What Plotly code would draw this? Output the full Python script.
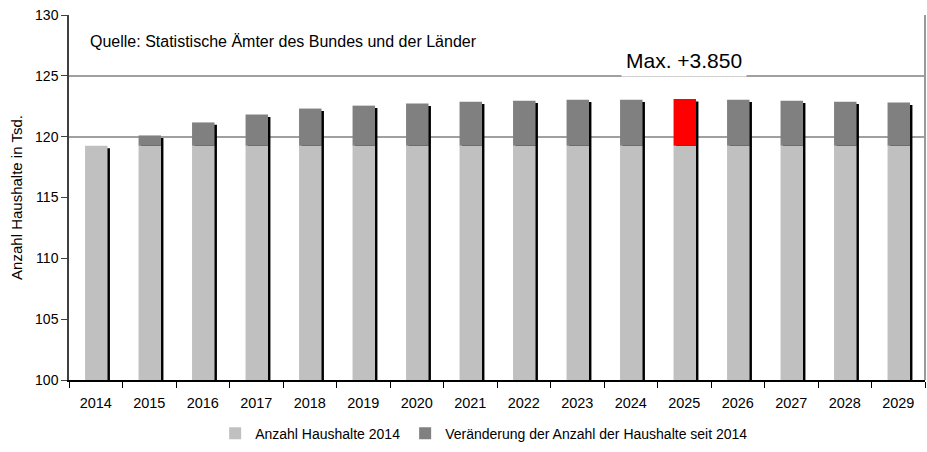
import plotly.graph_objects as go

# Households (thousands): 2014 stock plus the change since 2014
years = list(range(2014, 2030))
year_labels = [str(y) for y in years]
base_2014 = 119.25
change_since_2014 = [0.00, 0.85, 1.92, 2.57, 3.06, 3.30, 3.47, 3.63,
                     3.71, 3.79, 3.79, 3.85, 3.79, 3.71, 3.63, 3.55]

y_ticks = [100, 105, 110, 115, 120, 125, 130]
y_grid = [120, 125, 130]
source_text = "Quelle: Statistische Ämter des Bundes und der Länder"
legend_names = ["Anzahl Haushalte 2014",
                "Veränderung der Anzahl der Haushalte seit 2014"]

FONT = "Liberation Sans, Arial, sans-serif"
LIGHT = "#c0c0c0"
DARK = "#808080"
HIGHLIGHT = "#ff0000"

max_change = max(change_since_2014)
max_idx = change_since_2014.index(max_change)
totals = [base_2014 + c for c in change_since_2014]

BAR_W = 0.42
BAR_OFF = -0.20
SHADOW_DX = 0.045
SHADOW_DY = 0.2

fig = go.Figure()

# drop shadow behind each column
fig.add_trace(go.Bar(
    x=years, y=[t - SHADOW_DY for t in totals],
    width=BAR_W, offset=BAR_OFF + SHADOW_DX,
    marker=dict(color="#000000", line=dict(width=0)),
    showlegend=False, hoverinfo="skip",
))

# 2014 stock
fig.add_trace(go.Bar(
    x=years, y=[base_2014] * len(years),
    width=BAR_W, offset=BAR_OFF,
    name=legend_names[0],
    marker=dict(color=LIGHT, line=dict(width=0)),
))

# change since 2014, stacked on the 2014 stock
colors = [HIGHLIGHT if i == max_idx else DARK for i in range(len(years))]
fig.add_trace(go.Bar(
    x=years, y=change_since_2014, base=[base_2014] * len(years),
    width=BAR_W, offset=BAR_OFF,
    name=legend_names[1],
    marker=dict(color=colors, line=dict(width=0)),
))

max_label = "Max. +" + f"{max_change * 1000:,.0f}".replace(",", ".")

fig.update_layout(
    width=927, height=452,
    margin=dict(l=69, r=2, t=15, b=69),
    barmode="overlay",
    plot_bgcolor="white", paper_bgcolor="white",
    font=dict(family=FONT, size=14, color="#000000"),
    xaxis=dict(
        range=[years[0] - 0.5, years[-1] + 0.5],
        tickvals=years, ticktext=year_labels, ticks="",
        ticklabelstandoff=9,
        showgrid=False,
        showline=True, linecolor="#000000", linewidth=1.5,
        tickfont=dict(size=14.5),
        minor=dict(tick0=years[0] - 0.5, dtick=1, ticks="outside",
                   ticklen=6, tickcolor="#000000", tickwidth=1,
                   showgrid=False),
    ),
    yaxis=dict(
        range=[100, 130], tickvals=y_ticks,
        showgrid=False,
        showline=True, linecolor="#404040", linewidth=1.5,
        ticks="outside", ticklen=6, tickcolor="#404040",
        tickfont=dict(size=14),
        zeroline=False,
        minor=dict(tickvals=y_grid, ticks="", showgrid=True,
                   gridcolor="#a0a0a0", gridwidth=1.5),
        title=dict(text="Anzahl Haushalte in Tsd.", font=dict(size=15),
                   standoff=9),
    ),
    legend=dict(
        orientation="h", x=0.485, xanchor="center",
        y=-0.147, yanchor="middle",
        font=dict(size=14), itemwidth=30,
        traceorder="normal",
    ),
    shapes=[dict(type="line", xref="paper", yref="paper",
                 x0=1, x1=1, y0=0, y1=1,
                 line=dict(color="#9a9a9a", width=2))],
    annotations=[
        dict(text=source_text, xref="paper", yref="paper",
             x=0.0222, y=0.9266, xanchor="left", yanchor="middle",
             showarrow=False, font=dict(size=16)),
        dict(text=max_label, xref="x", yref="y",
             x=years[max_idx], y=126.25, xanchor="center", yanchor="middle",
             showarrow=False, font=dict(size=21), bgcolor="white",
             borderpad=4),
    ],
)

fig.write_html("out.html")
